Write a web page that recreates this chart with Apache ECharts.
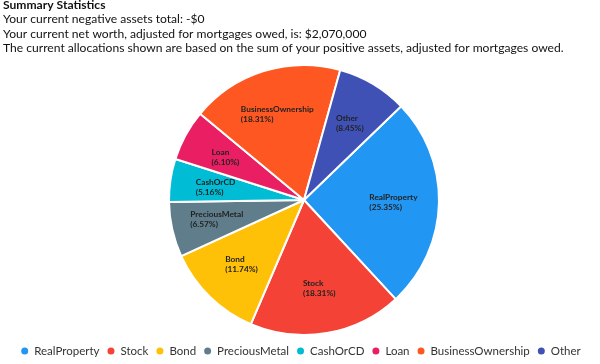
<!DOCTYPE html>
<html><head><meta charset="utf-8">
<script src="https://cdn.jsdelivr.net/npm/echarts@6/dist/echarts.min.js"></script>
<style>html,body{margin:0;padding:0;background:#fff}#c{width:600px;height:364px}</style>
</head><body><div id="c"></div>
<script>
const headerLines = [
  'Summary Statistics',
  'Your current negative assets total: -$0',
  'Your current net worth, adjusted for mortgages owed, is: $2,070,000',
  'The current allocations shown are based on the sum of your positive assets, adjusted for mortgages owed.'
];
const categories = ['RealProperty','Stock','Bond','PreciousMetal','CashOrCD','Loan','BusinessOwnership','Other'];
const values = [540000, 390000, 250000, 140000, 110000, 130000, 390000, 180000];
const colors = ['#2196F3','#F44336','#FFC107','#607D8B','#00BCD4','#E91E63','#FF5722','#3F51B5'];

const total = values.reduce((a, b) => a + b, 0);
const data = categories.map((n, i) => ({name: n, value: values[i], itemStyle: {color: colors[i]}}));
const font = 'Lato, "Noto Sans", sans-serif';
const chart = echarts.init(document.getElementById('c'), null, {renderer: 'canvas'});
chart.setOption({
  animation: false,
  textStyle: {fontFamily: font},
  graphic: headerLines.map((t, i) => ({
    type: 'text', left: 3, top: -1 + i * 14.5,
    style: {text: t, font: (i === 0 ? 'bold ' : '') + '12.1px ' + font, fill: '#111'}
  })),
  legend: {
    bottom: 2, left: 'center', width: 590, icon: 'circle', itemWidth: 9, itemHeight: 9, itemGap: 6,
    textStyle: {fontSize: 11.5, color: '#333', fontFamily: font},
    data: categories
  },
  series: [{
    type: 'pie', center: [304, 200], radius: [0, 135], startAngle: 44, clockwise: true,
    itemStyle: {borderColor: '#fff', borderWidth: 2},
    label: {show: false}, labelLine: {show: false},
    data: data
  }, {
    type: 'pie', center: [304, 200], radius: [38, 135], startAngle: 44, clockwise: true, silent: true,
    itemStyle: {color: 'rgba(0,0,0,0)', borderWidth: 0},
    label: {
      show: true, position: 'inner', align: 'center', verticalAlign: 'middle',
      formatter: p => '{t|' + p.name + '}\n{t|(' + (p.value / total * 100).toFixed(2) + '%)}',
      rich: {t: {fontSize: 8.3, fontWeight: 'bold', color: '#222', align: 'left', lineHeight: 10, fontFamily: font}}
    },
    labelLine: {show: false},
    data: categories.map((n, i) => ({name: n, value: values[i]}))
  }]
});
</script></body></html>
